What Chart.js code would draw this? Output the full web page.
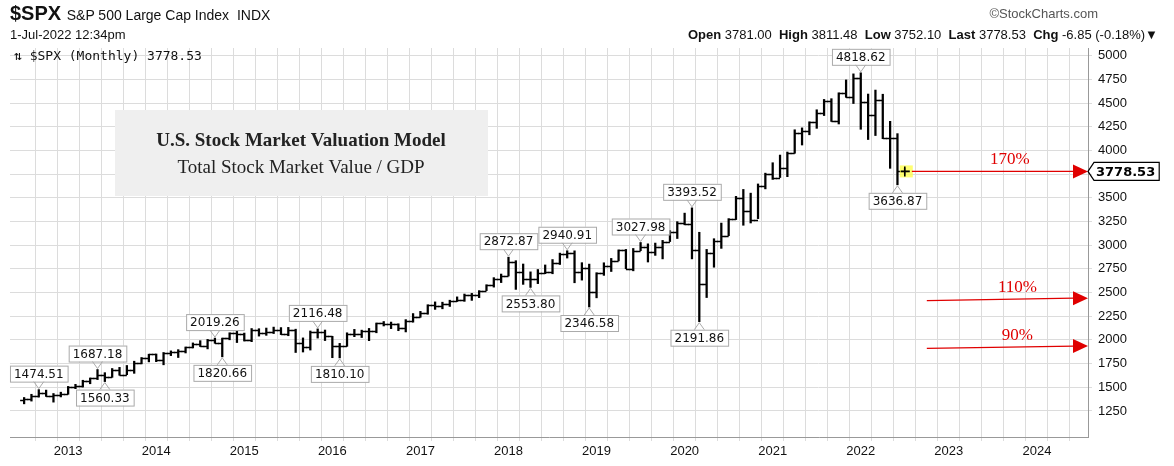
<!DOCTYPE html>
<html>
<head>
<meta charset="utf-8">
<script src="https://cdn.jsdelivr.net/npm/chart.js@4/dist/chart.umd.min.js"></script>
<style>
  body { margin: 0; background: #fff; font-family: Arial, "Liberation Sans", sans-serif; }
  #wrap { position: relative; width: 1174px; height: 466px; }
  canvas { position: absolute; left: 0; top: 0; }
  .t { position: absolute; white-space: nowrap; color: #111; }
</style>
</head>
<body>
<div id="wrap">
  <canvas id="c" width="1174" height="466"></canvas>
  <div class="t" style="left:10px;top:2px;font-size:20px;font-weight:bold;">$SPX <span style="font-size:14px;font-weight:normal">S&amp;P 500 Large Cap Index&nbsp; INDX</span></div>
  <div class="t" style="right:76px;top:6px;font-size:13px;color:#555;">©StockCharts.com</div>
  <div class="t" style="left:10px;top:27px;font-size:13px;">1-Jul-2022 12:34pm</div>
  <div class="t" style="right:16px;top:27px;font-size:13px;"><b>Open</b> 3781.00 &nbsp;<b>High</b> 3811.48 &nbsp;<b>Low</b> 3752.10 &nbsp;<b>Last</b> 3778.53 &nbsp;<b>Chg</b> -6.85 (-0.18%)▼</div>
  <div class="t" style="left:14px;top:48px;font-size:13px;font-family:'DejaVu Sans Mono',monospace;">⇅ $SPX (Monthly) 3778.53</div>
</div>
<script>
// monthly bars, Jul 2012 .. Jul 2022
const startYear = 2012, startMonth = 7;
const opens = [1362,1379,1406,1441,1412,1416,
  1426,1498,1515,1569,1598,1631,1606,1686,1633,1682,1757,1806,
  1848,1783,1859,1872,1884,1924,1960,1931,2003,1972,2018,2068,
  2059,1995,2105,2068,2086,2107,2063,2104,1972,1920,2079,2080,
  2038,1940,1932,2060,2065,2097,2099,2174,2171,2168,2126,2199,
  2239,2279,2364,2363,2384,2412,2423,2470,2472,2519,2575,2648,
  2674,2824,2714,2641,2648,2705,2718,2816,2902,2914,2712,2760,
  2507,2704,2784,2834,2946,2752,2942,2980,2926,2977,3038,3141,
  3231,3226,2954,2585,2912,3044,3100,3271,3500,3363,3270,3622,
  3756,3714,3811,3973,4181,4204,4298,4395,4523,4308,4605,4567,
  4766,4516,4374,4530,4132,4132,3781];
const highs = [1392,1426,1475,1470,1434,1448,
  1509,1531,1574,1598,1687,1654,1698,1710,1730,1775,1814,1849,
  1851,1867,1884,1897,1925,1968,1992,2005,2019,2019,2075,2093,
  2072,2120,2118,2125,2135,2130,2132,2113,2021,2094,2116,2104,
  2038,1963,2075,2111,2103,2121,2178,2194,2188,2170,2214,2278,
  2301,2371,2401,2398,2419,2454,2484,2491,2520,2582,2657,2695,
  2873,2836,2801,2718,2743,2791,2848,2916,2941,2940,2815,2800,
  2709,2814,2860,2950,2955,2965,3028,3014,3022,3050,3154,3248,
  3338,3394,3136,2955,3068,3233,3280,3515,3588,3549,3646,3760,
  3870,3951,3983,4218,4238,4302,4429,4538,4546,4608,4744,4808,
  4819,4595,4637,4593,4307,4177,3811];
const lows = [1325,1354,1396,1403,1343,1398,
  1426,1485,1502,1537,1581,1560,1605,1627,1633,1647,1747,1768,
  1770,1737,1834,1814,1862,1915,1930,1905,1964,1821,2001,1972,
  1988,1981,2040,2048,2067,2056,2044,1867,1872,1893,2019,1993,
  1812,1810,1932,2034,2025,1992,2075,2147,2119,2097,2084,2187,
  2239,2271,2322,2328,2353,2405,2407,2417,2446,2520,2557,2605,
  2674,2533,2586,2554,2594,2699,2698,2796,2864,2603,2631,2347,
  2444,2681,2722,2834,2751,2729,2942,2822,2892,2855,3038,3070,
  3215,2855,2192,2447,2767,2966,3100,3270,3210,3234,3280,3594,
  3694,3714,3723,3970,4057,4165,4233,4368,4306,4279,4560,4495,
  4223,4115,4157,4124,3811,3637,3752];
const closes = [1379,1406,1441,1412,1416,1426,
  1498,1515,1569,1598,1631,1606,1686,1633,1682,1757,1806,1848,
  1783,1859,1872,1884,1924,1960,1931,2003,1972,2018,2068,2059,
  1995,2105,2068,2086,2107,2063,2104,1972,1920,2079,2080,2044,
  1940,1932,2060,2065,2097,2099,2174,2171,2168,2126,2199,2239,
  2279,2364,2363,2384,2412,2423,2470,2472,2519,2575,2648,2674,
  2824,2714,2641,2648,2705,2718,2816,2902,2914,2712,2760,2507,
  2704,2784,2834,2946,2752,2942,2980,2926,2977,3038,3141,3231,
  3226,2954,2585,2912,3044,3100,3271,3500,3363,3270,3622,3756,
  3714,3811,3973,4181,4204,4298,4395,4523,4308,4605,4567,4766,
  4516,4374,4530,4132,4132,3785,3778.53];

const yTicks = [1250,1500,1750,2000,2250,2500,2750,3000,3250,3500,3750,4000,4250,4500,4750,5000];

// price call-outs: [bar index, text, above?]
const callouts = [
  [2, '1474.51', true], [10, '1687.18', true], [11, '1560.33', false],
  [26, '2019.26', true], [27, '1820.66', false], [40, '2116.48', true],
  [43, '1810.10', false], [66, '2872.87', true], [69, '2553.80', false],
  [74, '2940.91', true], [77, '2346.58', false], [84, '3027.98', true],
  [91, '3393.52', true], [92, '2191.86', false], [114, '4818.62', true],
  [119, '3636.87', false]
];

// valuation arrows: [label, start value, end value]
const arrows = [['170%', 3778.53, 3778.53], ['110%', 2415, 2440], ['90%', 1910, 1935]];

const xs = opens.map((_, i) => startYear + (startMonth - 1 + i) / 12);
const rangeData = xs.map((x, i) => ({ x, y: [lows[i], highs[i]] }));

const ohlcTicks = {
  id: 'ohlcTicks',
  afterDatasetsDraw(chart) {
    const { ctx, scales: { x, y } } = chart;
    ctx.save();
    ctx.strokeStyle = '#000';
    ctx.lineWidth = 1.6;
    xs.forEach((v, i) => {
      const px = x.getPixelForValue(v);
      ctx.beginPath();
      ctx.moveTo(px - 4, Math.round(y.getPixelForValue(opens[i])) + 0.5);
      ctx.lineTo(px, Math.round(y.getPixelForValue(opens[i])) + 0.5);
      ctx.moveTo(px, Math.round(y.getPixelForValue(closes[i])) + 0.5);
      ctx.lineTo(px + 4, Math.round(y.getPixelForValue(closes[i])) + 0.5);
      ctx.stroke();
    });
    // last bar highlight
    const li = xs.length - 1;
    const lx = x.getPixelForValue(xs[li]), ly = y.getPixelForValue(closes[li]);
    ctx.fillStyle = 'rgba(255,255,80,0.8)';
    ctx.fillRect(lx - 5, ly - 6, 13, 12);
    ctx.beginPath();
    ctx.moveTo(lx - 4, ly); ctx.lineTo(lx + 5, ly);
    ctx.moveTo(lx, ly - 5); ctx.lineTo(lx, ly + 5);
    ctx.stroke();
    ctx.restore();
  }
};

const overlays = {
  id: 'overlays',
  afterDraw(chart) {
    const { ctx, scales: { x, y }, chartArea: area } = chart;
    ctx.save();
    // call-out boxes
    ctx.font = '12px "DejaVu Sans", Verdana, sans-serif';
    ctx.textAlign = 'center';
    ctx.textBaseline = 'middle';
    callouts.forEach(([i, txt, above]) => {
      const px = x.getPixelForValue(xs[i]);
      const py = y.getPixelForValue(above ? highs[i] : lows[i]);
      const w = ctx.measureText(txt).width + 8, h = 16;
      const by = above ? py - 8 - h : py + 8;
      ctx.fillStyle = '#fff';
      ctx.strokeStyle = '#aaa';
      ctx.lineWidth = 1;
      ctx.fillRect(px - w / 2, by, w, h);
      ctx.strokeRect(px - w / 2 + 0.5, by + 0.5, w, h);
      ctx.beginPath();
      if (above) { ctx.moveTo(px - 5, by + h); ctx.lineTo(px, py - 1); ctx.lineTo(px + 5, by + h); }
      else { ctx.moveTo(px - 5, by); ctx.lineTo(px, py + 1); ctx.lineTo(px + 5, by); }
      ctx.stroke();
      ctx.fillStyle = '#111';
      ctx.fillText(txt, px, by + h / 2 + 1);
    });

    // title box
    ctx.fillStyle = '#efefef';
    ctx.fillRect(115, 110, 373, 86);
    ctx.fillStyle = '#222';
    ctx.font = 'bold 19px "Liberation Serif", "DejaVu Serif", serif';
    ctx.fillText('U.S. Stock Market Valuation Model', 301, 141);
    ctx.font = '19px "Liberation Serif", "DejaVu Serif", serif';
    ctx.fillText('Total Stock Market Value / GDP', 301, 168);

    // red arrows
    const x0 = x.getPixelForValue(2022.75), x1 = area.right;
    ctx.strokeStyle = '#e00000';
    ctx.fillStyle = '#e00000';
    ctx.lineWidth = 1.2;
    ctx.font = '17px "Liberation Serif", serif';
    arrows.forEach(([txt, v0, v1]) => {
      const y0 = y.getPixelForValue(v0), y1 = y.getPixelForValue(v1);
      const sx = txt === '170%' ? x.getPixelForValue(2022.58) : x0;
      ctx.beginPath();
      ctx.moveTo(sx, y0); ctx.lineTo(x1 - 14, y1);
      ctx.stroke();
      ctx.beginPath();
      ctx.moveTo(x1, y1); ctx.lineTo(x1 - 15, y1 - 7); ctx.lineTo(x1 - 15, y1 + 7);
      ctx.closePath(); ctx.fill();
      ctx.fillText(txt, (sx + x1) / 2 + 10, (y0 + y1) / 2 - 12);
    });

    // last price tag
    const ly = y.getPixelForValue(closes[closes.length - 1]);
    ctx.font = 'bold 13px "DejaVu Sans", sans-serif';
    ctx.textAlign = 'left';
    const tw = ctx.measureText('3778.53').width;
    ctx.fillStyle = '#fff';
    ctx.fillRect(area.right + 6, ly - 9, tw + 6, 18);
    ctx.strokeStyle = '#000';
    ctx.lineWidth = 1.2;
    ctx.beginPath();
    ctx.moveTo(area.right, ly); ctx.lineTo(area.right + 6, ly - 9); ctx.lineTo(area.right + 12 + tw, ly - 9);
    ctx.lineTo(area.right + 12 + tw, ly + 9); ctx.lineTo(area.right + 6, ly + 9); ctx.closePath();
    ctx.stroke();
    ctx.fillStyle = '#000';
    ctx.fillText('3778.53', area.right + 8, ly + 1);
    ctx.restore();
  }
};

new Chart(document.getElementById('c'), {
  type: 'bar',
  data: {
    datasets: [{
      data: rangeData,
      backgroundColor: '#000',
      barThickness: 1.6,
      grouped: false
    }]
  },
  options: {
    responsive: false,
    animation: false,
    layout: { padding: { left: 0, top: 48, right: 0, bottom: 0 } },
    plugins: { legend: { display: false }, tooltip: { enabled: false } },
    scales: {
      x: {
        type: 'linear',
        min: 2012.47,
        max: 2024.45,
        afterBuildTicks(s) {
          const t = [];
          for (let v = 2012.75; v <= 2024.45; v += 0.25) t.push({ value: v });
          s.ticks = t;
        },
        ticks: {
          autoSkip: false, maxRotation: 0, color: '#111',
          font: { size: 13, family: 'Arial' },
          callback: v => Math.abs(v - Math.round(v)) < 0.01 ? String(Math.round(v)) : ''
        },
        grid: { color: '#dcdcdc', tickLength: 4 },
        border: { color: '#999' },
        afterFit(s) { s.height = 29; s.paddingLeft = 10; s.paddingRight = 0; }
      },
      y: {
        position: 'right',
        min: 975,
        max: 5081,
        afterBuildTicks(s) { s.ticks = yTicks.map(v => ({ value: v })); },
        ticks: { color: '#111', font: { size: 13, family: 'Arial' }, padding: 6, callback: v => String(v) },
        grid: { color: '#dcdcdc', tickLength: 4 },
        border: { color: '#999' },
        afterFit(s) { s.width = 86; }
      }
    }
  },
  plugins: [ohlcTicks, overlays]
});
</script>
</body>
</html>
